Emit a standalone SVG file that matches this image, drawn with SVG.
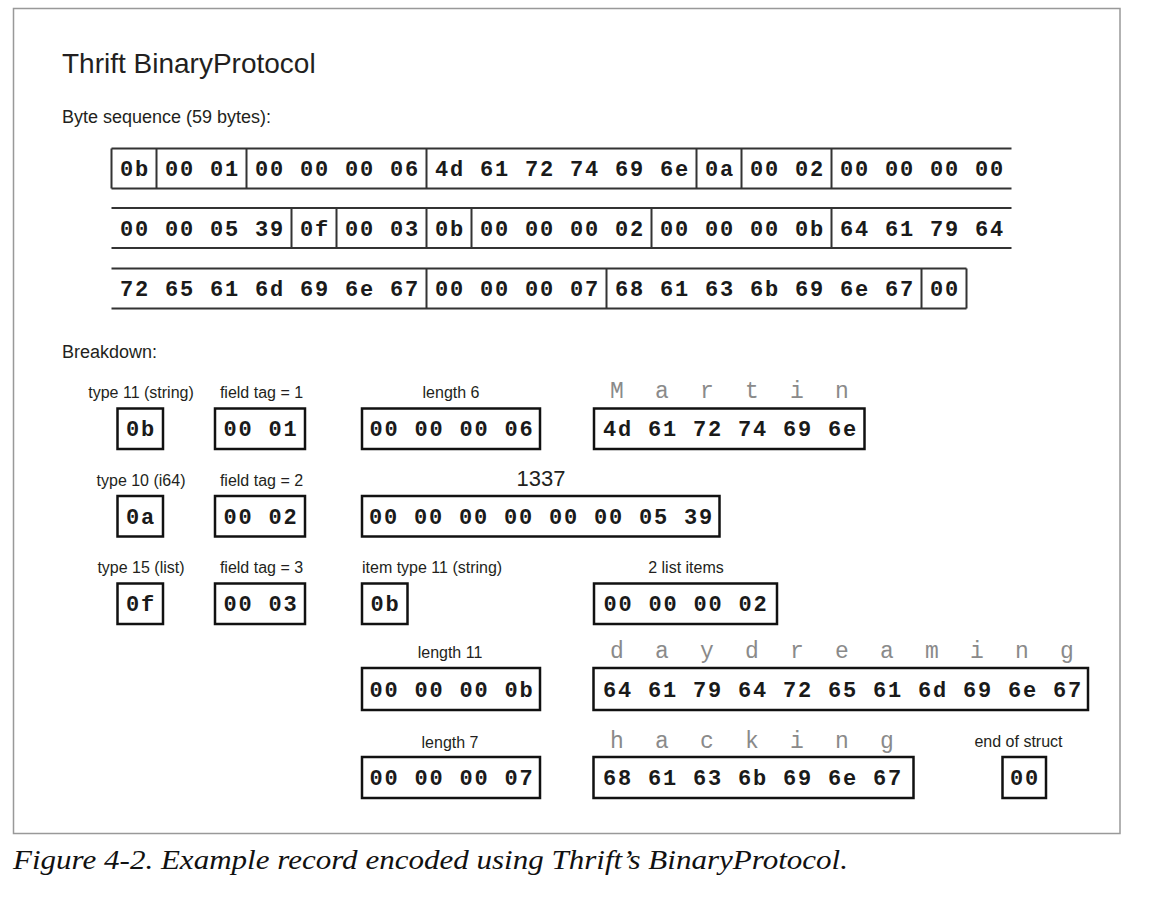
<svg xmlns="http://www.w3.org/2000/svg" width="1160" height="910" viewBox="0 0 1160 910">
<style>
.sans{font-family:"Liberation Sans","Open Sans",Arial,sans-serif;fill:#231f20}
.lbl{font-family:"Liberation Sans","Open Sans",Arial,sans-serif;font-size:16px;fill:#231f20;text-anchor:middle}
.hex{font-family:"Liberation Mono","Courier New",monospace;font-size:22px;letter-spacing:1.8px;font-weight:bold;fill:#1a1a1a}
.mid{text-anchor:middle}
.gray{font-family:"Liberation Mono","Courier New",monospace;font-size:23px;fill:#8a8a8a}
.rl{stroke:#333;stroke-width:2;fill:none}
.box{stroke:#111;stroke-width:2.5;fill:#fff}
</style>
<rect x="13.5" y="8.5" width="1106.5" height="825" fill="#fff" stroke="#999" stroke-width="1.5"/>
<text class="sans" x="62" y="73.3" font-size="28">Thrift BinaryProtocol</text>
<text class="sans" x="62" y="123.3" font-size="18">Byte sequence (59 bytes):</text>

<g id="byte-sequence">
  <g id="seq-row1">
    <path class="rl" d="M111.5 148.5H1011.5M111.5 188.5H1011.5M111.5 148.5V188.5M156.5 148.5V188.5M246.5 148.5V188.5M426.5 148.5V188.5M696.5 148.5V188.5M741.5 148.5V188.5M831.5 148.5V188.5"/>
    <text class="hex" y="176"><tspan x="120">0b</tspan><tspan x="165">00 01</tspan><tspan x="255">00 00 00 06</tspan><tspan x="435">4d 61 72 74 69 6e</tspan><tspan x="705">0a</tspan><tspan x="750">00 02</tspan><tspan x="840">00 00 00 00</tspan></text>
  </g>
  <g id="seq-row2">
    <path class="rl" d="M111.5 208H1011.5M111.5 248H1011.5M291.5 208V248M336.5 208V248M426.5 208V248M471.5 208V248M651.5 208V248M831.5 208V248"/>
    <text class="hex" y="235.5"><tspan x="120">00 00 05 39</tspan><tspan x="300">0f</tspan><tspan x="345">00 03</tspan><tspan x="435">0b</tspan><tspan x="480">00 00 00 02</tspan><tspan x="660">00 00 00 0b</tspan><tspan x="840">64 61 79 64</tspan></text>
  </g>
  <g id="seq-row3">
    <path class="rl" d="M111.5 268.5H966.5M111.5 308.5H966.5M426.5 268.5V308.5M606.5 268.5V308.5M921.5 268.5V308.5M966.5 268.5V308.5"/>
    <text class="hex" y="296"><tspan x="120">72 65 61 6d 69 6e 67</tspan><tspan x="435">00 00 00 07</tspan><tspan x="615">68 61 63 6b 69 6e 67</tspan><tspan x="930">00</tspan></text>
  </g>
</g>

<text class="sans" x="62" y="357.6" font-size="18">Breakdown:</text>

<g id="breakdown">
  <g id="type-string">
    <text class="lbl" x="141" y="398.3">type 11 (string)</text>
    <rect class="box" x="117.5" y="408.5" width="45.5" height="40.5"/>
    <text class="hex mid" x="141.1" y="436">0b</text>
  </g>
  <g id="field-tag-1">
    <text class="lbl" x="261.5" y="398.3">field tag = 1</text>
    <rect class="box" x="215" y="408.5" width="90" height="40.5"/>
    <text class="hex mid" x="260.9" y="436">00 01</text>
  </g>
  <g id="length-6">
    <text class="lbl" x="451" y="398.3">length 6</text>
    <rect class="box" x="362" y="408.5" width="178" height="40.5"/>
    <text class="hex mid" x="451.9" y="436">00 00 00 06</text>
  </g>
  <g id="martin">
    <text class="gray" y="398" x="610 655 700 745 790 835">Martin</text>
    <rect class="box" x="594" y="408.5" width="270.5" height="40.5"/>
    <text class="hex" x="603" y="436">4d 61 72 74 69 6e</text>
  </g>

  <g id="type-i64">
    <text class="lbl" x="141" y="486">type 10 (i64)</text>
    <rect class="box" x="117.5" y="496" width="45.5" height="40.5"/>
    <text class="hex mid" x="141.1" y="523.5">0a</text>
  </g>
  <g id="field-tag-2">
    <text class="lbl" x="261.5" y="486">field tag = 2</text>
    <rect class="box" x="215" y="496" width="90" height="40.5"/>
    <text class="hex mid" x="260.9" y="523.5">00 02</text>
  </g>
  <g id="value-1337">
    <text class="sans" x="541" y="486" font-size="22" text-anchor="middle">1337</text>
    <rect class="box" x="362" y="496" width="357.5" height="40.5"/>
    <text class="hex mid" x="541.6" y="523.5">00 00 00 00 00 00 05 39</text>
  </g>

  <g id="type-list">
    <text class="lbl" x="141" y="573">type 15 (list)</text>
    <rect class="box" x="117.5" y="583.5" width="45.5" height="40.5"/>
    <text class="hex mid" x="141.1" y="611">0f</text>
  </g>
  <g id="field-tag-3">
    <text class="lbl" x="261.5" y="573">field tag = 3</text>
    <rect class="box" x="215" y="583.5" width="90" height="40.5"/>
    <text class="hex mid" x="260.9" y="611">00 03</text>
  </g>
  <g id="item-type">
    <text class="lbl" x="362" y="573" style="text-anchor:start">item type 11 (string)</text>
    <rect class="box" x="362" y="583.5" width="45.5" height="40.5"/>
    <text class="hex mid" x="385.6" y="611">0b</text>
  </g>
  <g id="list-items">
    <text class="lbl" x="686" y="573">2 list items</text>
    <rect class="box" x="594" y="583.5" width="183" height="40.5"/>
    <text class="hex" x="603.5" y="611">00 00 00 02</text>
  </g>

  <g id="length-11">
    <text class="lbl" x="450" y="658.3">length 11</text>
    <rect class="box" x="362" y="668" width="178" height="42"/>
    <text class="hex mid" x="451.9" y="696.5">00 00 00 0b</text>
  </g>
  <g id="daydreaming">
    <text class="gray" y="658" x="610 655 700 745 790 835 880 925 970 1015 1060">daydreaming</text>
    <rect class="box" x="593.5" y="668" width="494.5" height="42"/>
    <text class="hex" x="603" y="696.5">64 61 79 64 72 65 61 6d 69 6e 67</text>
  </g>

  <g id="length-7">
    <text class="lbl" x="450" y="748.3">length 7</text>
    <rect class="box" x="362" y="757" width="178" height="41"/>
    <text class="hex mid" x="451.9" y="785">00 00 00 07</text>
  </g>
  <g id="hacking">
    <text class="gray" y="748" x="610 655 700 745 790 835 880">hacking</text>
    <rect class="box" x="593.5" y="757" width="320" height="41"/>
    <text class="hex" x="603" y="785">68 61 63 6b 69 6e 67</text>
  </g>
  <g id="end-of-struct">
    <text class="lbl" x="1018.5" y="747">end of struct</text>
    <rect class="box" x="1002.5" y="757" width="43.5" height="41"/>
    <text class="hex mid" x="1025.1" y="785">00</text>
  </g>
</g>

<g id="connectors"/>

<text x="13" y="869.3" font-family="'Liberation Serif','Times New Roman',serif" font-style="italic" font-size="27" fill="#111" textLength="835" lengthAdjust="spacingAndGlyphs">Figure 4-2. Example record encoded using Thrift’s BinaryProtocol.</text>
</svg>
